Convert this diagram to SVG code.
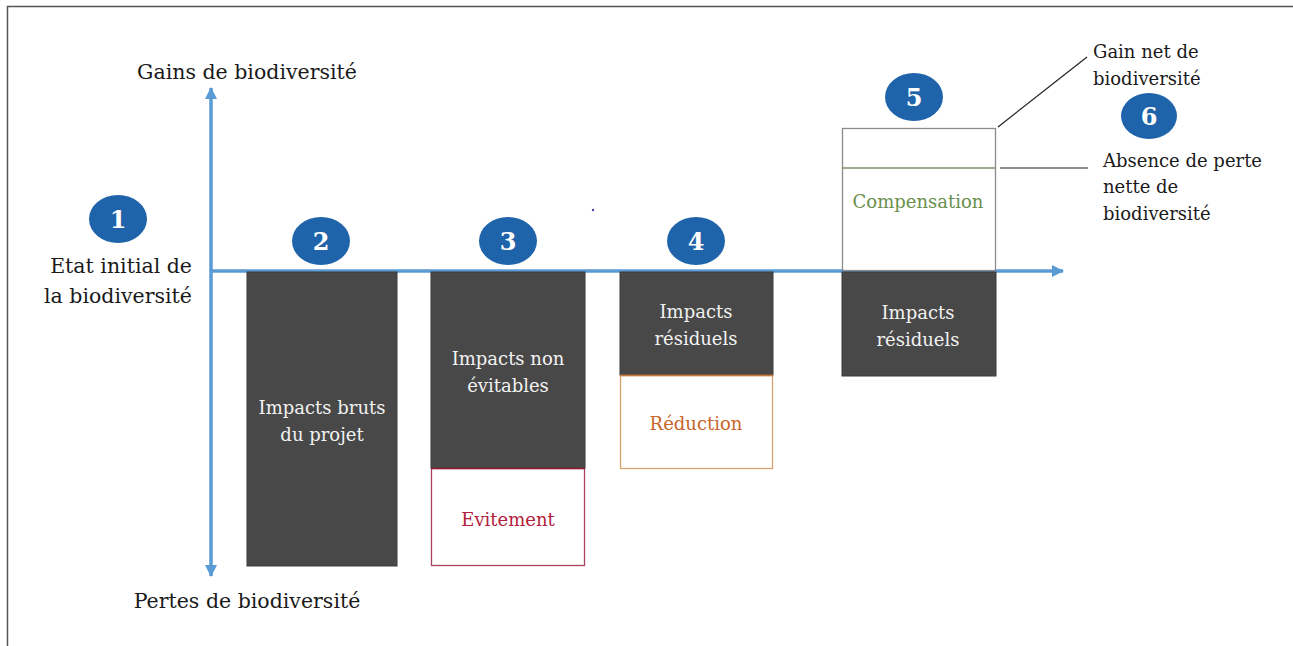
<svg xmlns="http://www.w3.org/2000/svg" width="1293" height="646" viewBox="0 0 1293 646">
<defs>
<style>
text{font-family:'DejaVu Serif','Liberation Serif',serif}
.t{fill:#1a1a1a;font-size:20.5px}
.s{font-size:18px}
.w{fill:#f2f2f2;text-anchor:middle}
.n{font-size:24px;font-weight:bold;fill:#fff;text-anchor:middle}
.dark{fill:#484848;stroke:#3a3a3a;stroke-width:1}
.badge{fill:#1f64aa}
.axis{stroke:#5b9bd5;stroke-width:3.5;fill:none}
.lead{stroke:#222;stroke-width:1.2;fill:none}
</style>
<marker id="ah" markerUnits="userSpaceOnUse" markerWidth="14" markerHeight="14" refX="11" refY="6" orient="auto">
<path d="M0,0 L12,6 L0,12 Z" fill="#5b9bd5"/>
</marker>
</defs>
<rect width="1293" height="646" fill="#fff"/>
<path d="M7.5,646 V6.5 H1293" fill="none" stroke="#555" stroke-width="1.5"/>

<g id="connectors">
<line class="axis" x1="211" y1="272" x2="211" y2="88" marker-end="url(#ah)"/>
<line class="axis" x1="211" y1="272" x2="211" y2="576" marker-end="url(#ah)"/>
<line class="axis" x1="211" y1="271" x2="1063" y2="271" marker-end="url(#ah)"/>
<line class="lead" x1="998" y1="127" x2="1087" y2="57"/>
<line class="lead" x1="1000" y1="168" x2="1088" y2="168"/>
</g>

<g id="axis-labels">
<text class="t" x="247" y="79" text-anchor="middle">Gains de biodiversité</text>
<text class="t" x="247" y="608" text-anchor="middle">Pertes de biodiversité</text>
</g>

<g id="step1">
<ellipse class="badge" cx="118" cy="219" rx="29" ry="24"/>
<text class="n" x="118" y="228">1</text>
<text class="t" x="192" y="273" text-anchor="end" font-size="20">Etat initial de</text>
<text class="t" x="192" y="303" text-anchor="end" font-size="20">la biodiversité</text>
</g>

<g id="step2">
<ellipse class="badge" cx="321" cy="241" rx="29" ry="24"/>
<text class="n" x="321" y="250">2</text>
<rect class="dark" x="247" y="272" width="150" height="294"/>
<text class="s w" x="322" y="414">Impacts bruts</text>
<text class="s w" x="322" y="441">du projet</text>
</g>

<g id="step3">
<ellipse class="badge" cx="508" cy="241" rx="29" ry="24"/>
<text class="n" x="508" y="250">3</text>
<rect class="dark" x="431" y="272" width="154" height="196"/>
<text class="s w" x="508" y="365">Impacts non</text>
<text class="s w" x="508" y="392">évitables</text>
<rect x="431.5" y="468.5" width="153" height="97" fill="#fff" stroke="#a8425a" stroke-width="1.3"/>
<line x1="431" y1="468.5" x2="585" y2="468.5" stroke="#8e1f33" stroke-width="1.5"/>
<text class="s" x="508" y="526" text-anchor="middle" fill="#b3203c">Evitement</text>
</g>

<g id="step4">
<ellipse class="badge" cx="696" cy="241" rx="29" ry="24"/>
<text class="n" x="696" y="250">4</text>
<rect class="dark" x="620" y="272" width="153" height="103"/>
<text class="s w" x="696" y="318">Impacts</text>
<text class="s w" x="696" y="345">résiduels</text>
<rect x="620.5" y="375.5" width="152" height="93" fill="#fff" stroke="#d9a36f" stroke-width="1.3"/>
<line x1="620" y1="375.5" x2="773" y2="375.5" stroke="#c77a35" stroke-width="1.5"/>
<text class="s" x="696" y="430" text-anchor="middle" fill="#c8662a">Réduction</text>
</g>

<g id="step5">
<ellipse class="badge" cx="914" cy="97" rx="29" ry="24"/>
<text class="n" x="914" y="106">5</text>
<rect x="842.5" y="128.5" width="153" height="142" fill="#fff" stroke="#8c8c8c" stroke-width="1.3"/>
<line x1="842" y1="168" x2="996" y2="168" stroke="#7d8f6e" stroke-width="1.3"/>
<text class="s" x="918" y="208" text-anchor="middle" fill="#6a8f4d">Compensation</text>
<rect class="dark" x="842" y="272" width="154" height="104"/>
<text class="s w" x="918" y="319">Impacts</text>
<text class="s w" x="918" y="346">résiduels</text>
</g>

<g id="step6">
<text class="s" x="1093" y="58" fill="#1a1a1a">Gain net de</text>
<text class="s" x="1093" y="85" fill="#1a1a1a">biodiversité</text>
<ellipse class="badge" cx="1149" cy="116" rx="28" ry="23"/>
<text class="n" x="1149" y="125">6</text>
<text class="s" x="1103" y="167" fill="#1a1a1a">Absence de perte</text>
<text class="s" x="1103" y="193" fill="#1a1a1a">nette de</text>
<text class="s" x="1103" y="220" fill="#1a1a1a">biodiversité</text>
</g>

<circle cx="593" cy="210" r="1.2" fill="#4b3fa8"/>
</svg>
